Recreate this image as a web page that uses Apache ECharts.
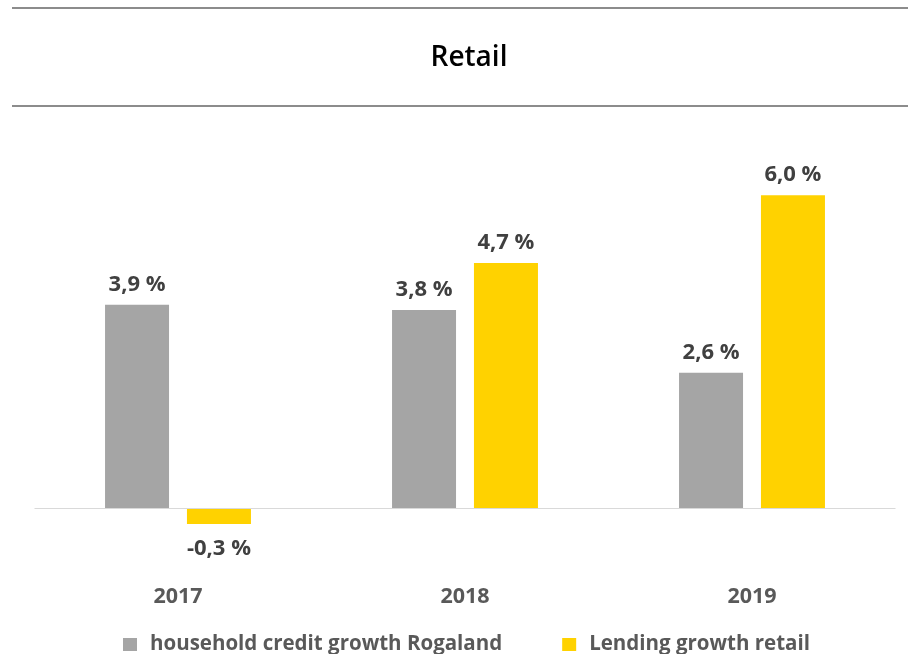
<!DOCTYPE html>
<html>
<head>
<meta charset="utf-8">
<script src="https://cdn.jsdelivr.net/npm/echarts@6/dist/echarts.min.js"></script>
<style>
  html, body { margin: 0; padding: 0; background: #fff; }
  #chart { width: 908px; height: 654px; }
</style>
</head>
<body>
<div id="chart"></div>
<script>
// Growth rates in percent per year
const years = ['2017', '2018', '2019'];
const householdRogaland = [3.9, 3.8, 2.6];
const lendingRetail = [-0.3, 4.7, 6.0];
const seriesNames = ['household credit growth Rogaland', 'Lending growth retail'];

const FONT = 'Open Sans';
const fmt = v => v.toFixed(1).replace('.', ',') + ' %';

function toItems(values) {
  return values.map(v => ({
    value: v,
    label: {
      position: v < 0 ? 'bottom' : 'top',
      distance: v < 0 ? 14 : 9
    }
  }));
}

const chart = echarts.init(document.getElementById('chart'));

const valueLabel = {
  show: true,
  fontFamily: FONT,
  fontWeight: 'bold',
  fontSize: 22,
  color: '#404040',
  formatter: p => fmt(p.value)
};

chart.setOption({
  animation: false,
  title: {
    text: 'Retail',
    left: 464,
    textAlign: 'center',
    top: 39,
    textStyle: { fontFamily: FONT, fontWeight: 600, fontSize: 28, color: '#000' }
  },
  graphic: [
    { type: 'line', shape: { x1: 12, y1: 8, x2: 908, y2: 8 }, style: { stroke: '#8c8c8c', lineWidth: 2 } },
    { type: 'line', shape: { x1: 12, y1: 106, x2: 908, y2: 106 }, style: { stroke: '#8c8c8c', lineWidth: 2 } }
  ],
  legend: {
    top: 629,
    left: 118,
    icon: 'rect',
    itemWidth: 14,
    itemHeight: 13,
    itemGap: 60,
    data: seriesNames,
    textStyle: { fontFamily: FONT, fontWeight: 'bold', fontSize: 20.5, color: '#595959', padding: [0, 0, 0, 8] }
  },
  grid: { left: 34.5, right: 12.5, top: 143, bottom: 83, containLabel: false },
  xAxis: {
    type: 'category',
    data: years,
    axisLine: { show: false, onZero: false },
    axisTick: { show: false },
    axisLabel: { margin: 15, fontFamily: FONT, fontWeight: 'bold', fontSize: 21.5, color: '#595959' }
  },
  yAxis: {
    type: 'value',
    min: -1.2,
    max: 7,
    show: false,
    splitLine: { show: false }
  },
  series: [
    {
      name: seriesNames[0],
      type: 'bar',
      data: toItems(householdRogaland),
      barWidth: 64,
      barGap: '28%',
      itemStyle: { color: '#a5a5a5' },
      label: valueLabel,
      markLine: {
        silent: true,
        symbol: 'none',
        label: { show: false },
        lineStyle: { color: '#d9d9d9', width: 1, type: 'solid' },
        data: [{ yAxis: 0 }]
      }
    },
    {
      name: seriesNames[1],
      type: 'bar',
      data: toItems(lendingRetail),
      barWidth: 64,
      itemStyle: { color: '#ffd200' },
      label: valueLabel
    }
  ]
});
</script>
</body>
</html>
